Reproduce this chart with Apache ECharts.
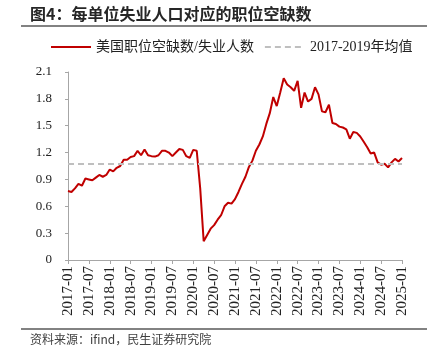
<!DOCTYPE html>
<html>
<head>
<meta charset="utf-8">
<script src="https://cdn.jsdelivr.net/npm/echarts@6/dist/echarts.min.js"></script>
<style>
html,body{margin:0;padding:0;background:#fff;}
#c{width:441px;height:357px;}
</style>
</head>
<body>
<div id="c"></div>
<script>
// Monthly categories 2017-01 .. 2025-01
const startYear = 2017;
const months = [];
for (let i = 0; i < 97; i++) {
  const y = startYear + Math.floor(i / 12);
  const m = (i % 12) + 1;
  months.push(y + '-' + (m < 10 ? '0' + m : '' + m));
}
// Job openings per unemployed
const ratio2017_2019 = [
  0.77, 0.76, 0.80, 0.85, 0.83, 0.91, 0.90, 0.89, 0.92, 0.95, 0.93, 0.95,
  1.01, 0.99, 1.03, 1.05, 1.12, 1.12, 1.15, 1.16, 1.22, 1.17, 1.235, 1.17,
  1.16, 1.155, 1.17, 1.22, 1.22, 1.20, 1.16, 1.20, 1.24, 1.23, 1.16, 1.14
];
const ratio2020_2022 = [
  1.23, 1.22, 0.80, 0.21, 0.28, 0.35, 0.39, 0.45, 0.50, 0.60, 0.64, 0.63,
  0.68, 0.76, 0.85, 0.93, 1.04, 1.11, 1.22, 1.29, 1.38, 1.52, 1.64, 1.82,
  1.72, 1.87, 2.03, 1.96, 1.93, 1.89, 2.00, 1.70, 1.87, 1.77, 1.80, 1.93
];
const ratio2023_2025 = [
  1.85, 1.66, 1.65, 1.735, 1.53, 1.52, 1.49, 1.48, 1.46, 1.355, 1.43, 1.42,
  1.38, 1.32, 1.26, 1.19, 1.20, 1.09, 1.065, 1.075, 1.035, 1.09, 1.13, 1.10,
  1.14
];
const ratio = ratio2017_2019.concat(ratio2020_2022, ratio2023_2025);
const avg2017_2019 = 1.075;

const seriesName1 = '美国职位空缺数/失业人数';
const seriesName2 = '2017-2019年均值';

const chart = echarts.init(document.getElementById('c'), null, {renderer: 'canvas'});
const serif = '"Liberation Serif", "Times New Roman", "Noto Sans CJK SC", serif';
const sans = '"Noto Sans CJK SC", "Noto Sans", sans-serif';

chart.setOption({
  animation: false,
  backgroundColor: '#ffffff',
  grid: {left: 68, right: 39, top: 72, bottom: 97, containLabel: false},
  legend: {
    top: 35,
    left: 45,
    itemWidth: 40,
    itemHeight: 10,
    itemGap: 10,
    itemStyle: {opacity: 0},
    textStyle: {fontFamily: serif, fontSize: 14, color: '#222'},
    data: [seriesName1, seriesName2]
  },
  xAxis: {
    type: 'category',
    data: months,
    boundaryGap: false,
    axisLine: {lineStyle: {color: '#a6a6a6', width: 1}},
    axisTick: {show: true, interval: 5, length: 4, lineStyle: {color: '#a6a6a6'}},
    axisLabel: {interval: 5, rotate: 90, fontFamily: serif, fontSize: 15, color: '#222', margin: 6}
  },
  yAxis: {
    type: 'value',
    min: 0, max: 2.1, interval: 0.3,
    axisLine: {show: true, lineStyle: {color: '#a6a6a6', width: 1}},
    axisTick: {show: true, length: 3, lineStyle: {color: '#a6a6a6'}},
    splitLine: {show: false},
    axisLabel: {fontFamily: serif, fontSize: 13, color: '#222', margin: 16,
      formatter: v => (Math.round(v * 10) / 10).toString()}
  },
  series: [
    {
      name: seriesName1,
      type: 'line',
      data: ratio,
      symbol: 'none',
      lineStyle: {color: '#c00000', width: 2},
      itemStyle: {color: '#c00000'},
      z: 3
    },
    {
      name: seriesName2,
      type: 'line',
      data: [],
      symbol: 'none',
      lineStyle: {color: '#bfbfbf', width: 2, type: [6, 4]},
      itemStyle: {color: '#bfbfbf'},
      markLine: {
        silent: true,
        symbol: 'none',
        label: {show: false},
        lineStyle: {color: '#bfbfbf', width: 2, type: [6, 4]},
        data: [{yAxis: avg2017_2019}]
      },
      z: 2
    }
  ],
  graphic: [
    {type: 'text', left: 30, top: 6,
     style: {text: '图4：每单位失业人口对应的职位空缺数', font: 'bold 16px ' + sans, fill: '#262626'}},
    {type: 'line', shape: {x1: 21, y1: 26, x2: 427, y2: 26}, style: {stroke: '#595959', lineWidth: 1.5}},
    {type: 'line', shape: {x1: 21, y1: 329, x2: 427, y2: 329}, style: {stroke: '#595959', lineWidth: 1.5}},
    {type: 'text', left: 30, top: 333,
     style: {text: '资料来源：ifind，民生证券研究院', font: '12px ' + sans, fill: '#404040'}}
  ]
});
</script>
</body>
</html>
